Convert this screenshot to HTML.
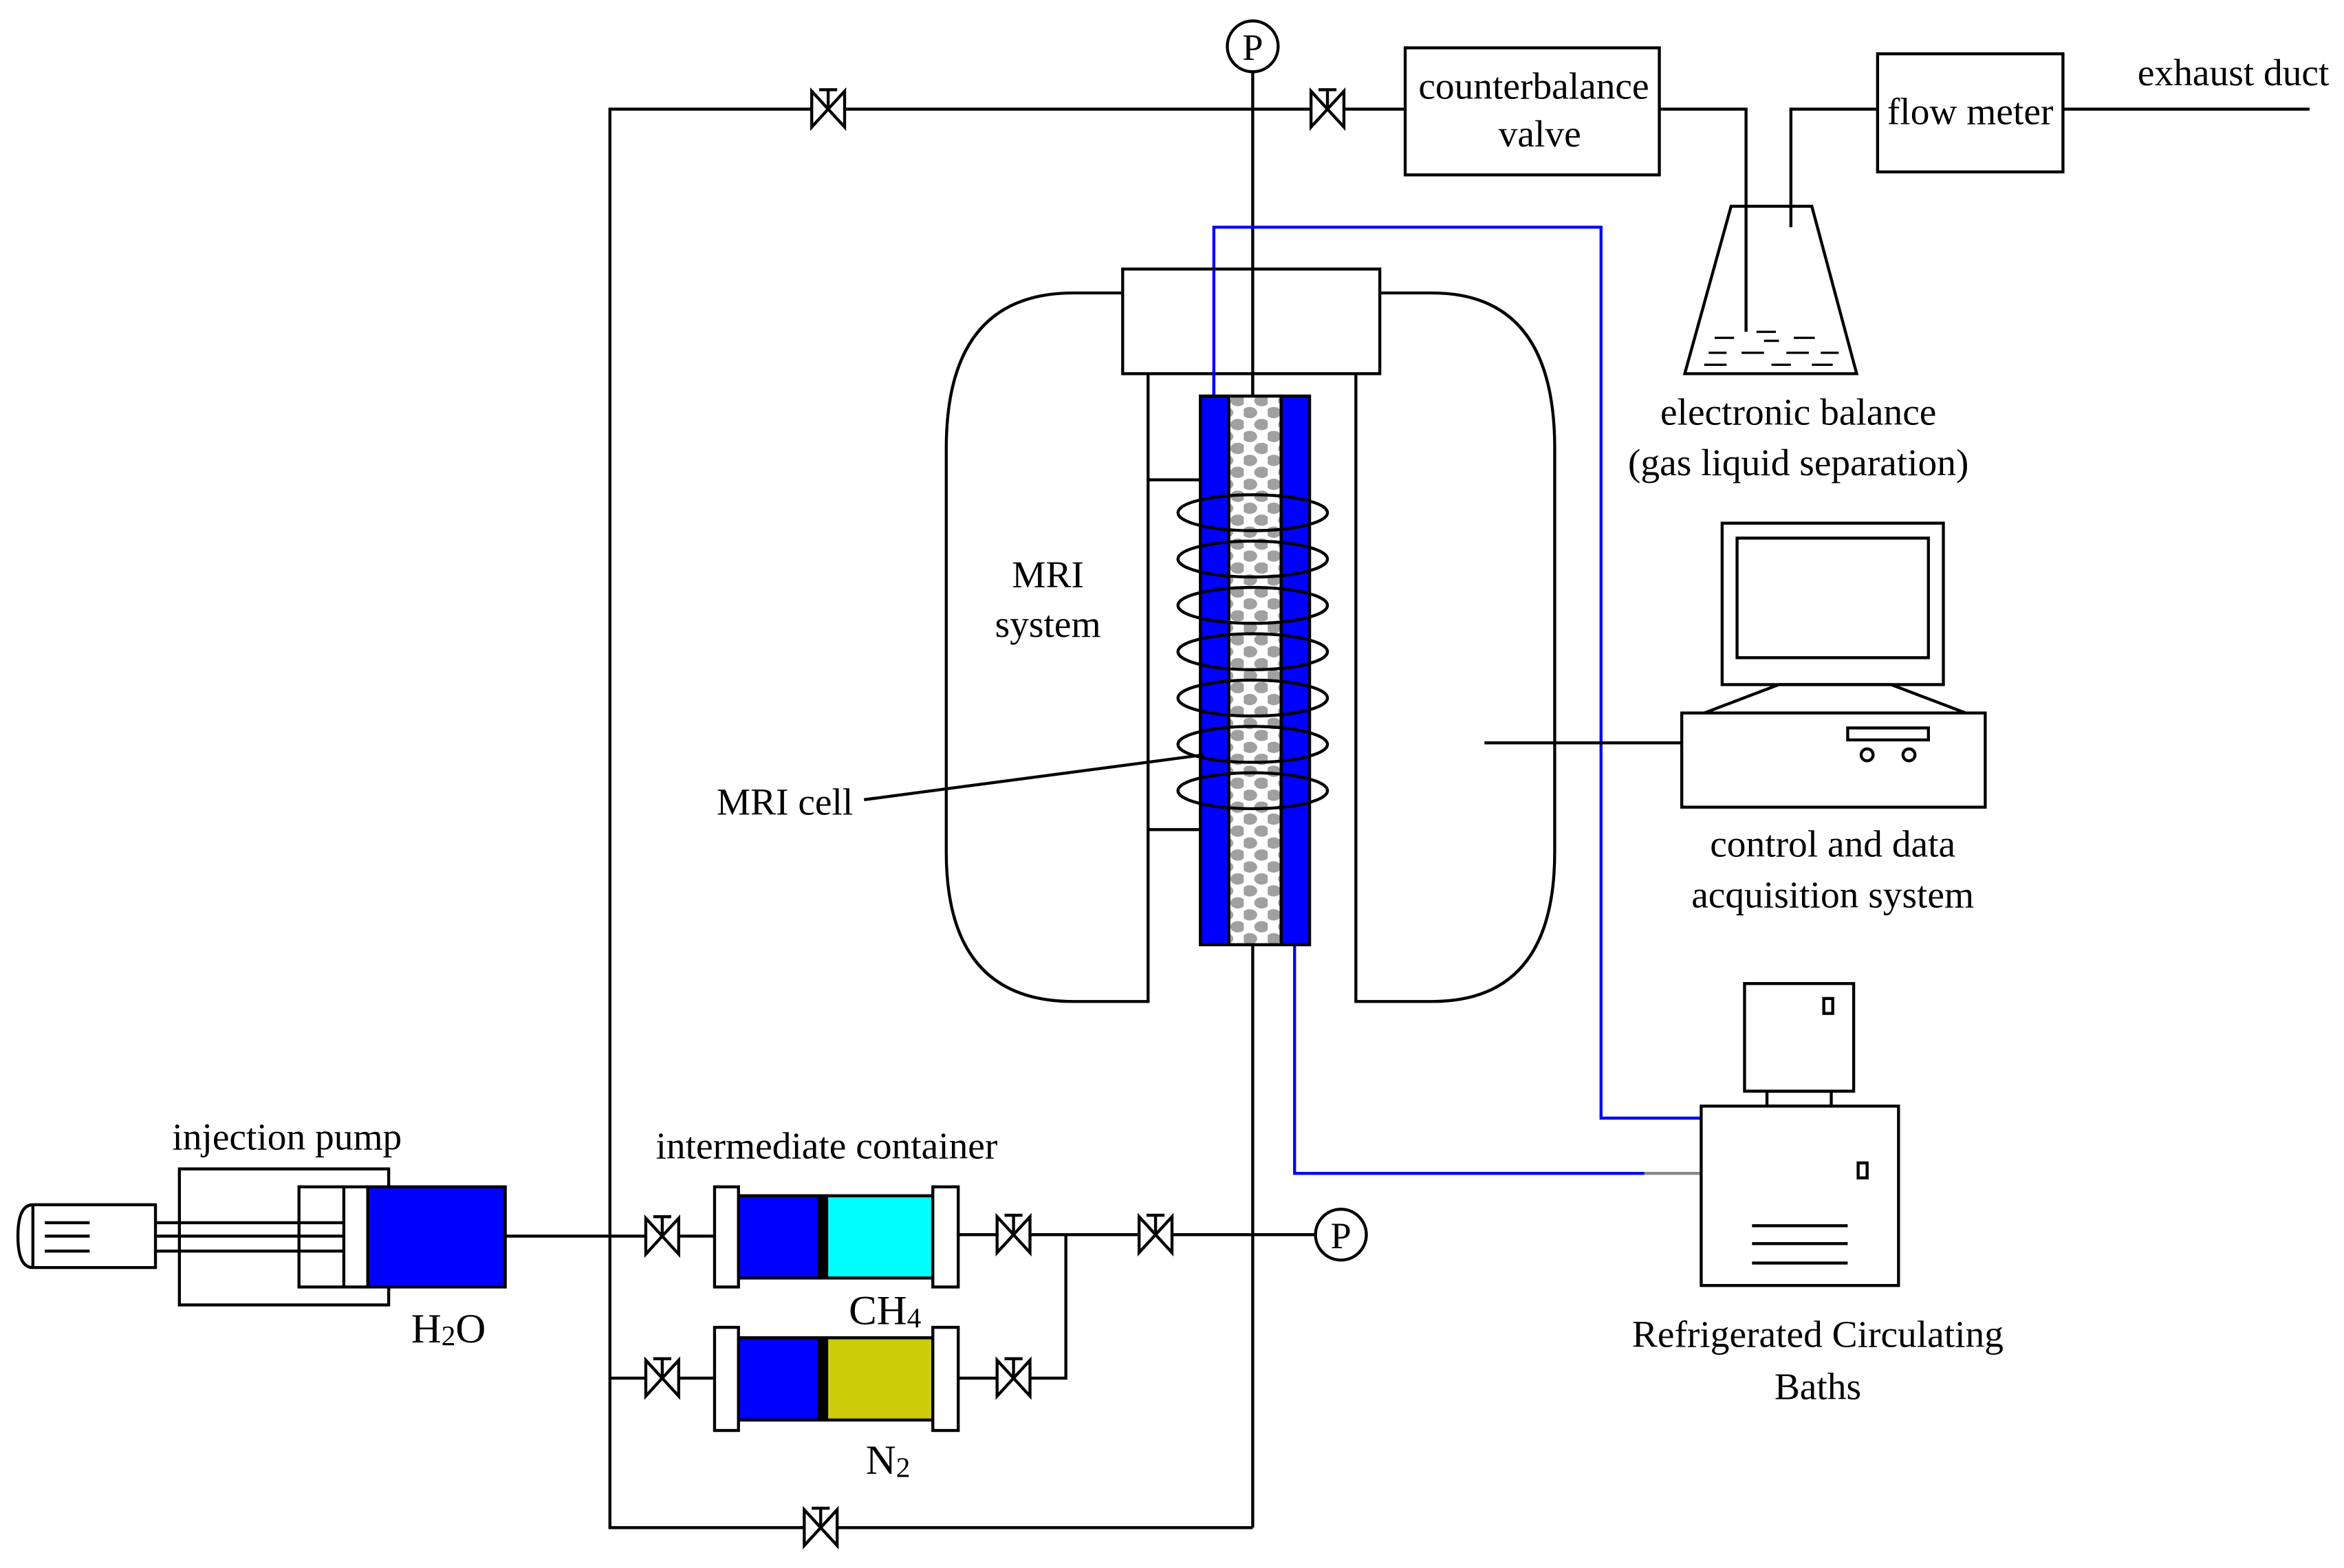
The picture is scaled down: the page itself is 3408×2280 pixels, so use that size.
<!DOCTYPE html>
<html><head><meta charset="utf-8"><style>html,body{margin:0;padding:0;background:#fff}svg{display:block}</style></head>
<body>
<svg width="3408" height="2280" viewBox="0 0 1568 1049" preserveAspectRatio="none" xmlns="http://www.w3.org/2000/svg" font-family="Liberation Serif, serif" font-size="25.5" fill="none" stroke="#000" stroke-width="2">
<defs>
<g id="v"><polygon points="-11,-12 11,12 11,-12 -11,12" fill="#fff"/><line x1="0" y1="0" x2="0" y2="-13"/><line x1="-6" y1="-13" x2="6" y2="-13"/></g>
<pattern id="dots" width="16" height="16" patternUnits="userSpaceOnUse"><rect width="16" height="16" fill="#fff" stroke="none"/><ellipse cx="4" cy="4" rx="5" ry="3.8" fill="#a0a0a0" stroke="none"/><ellipse cx="12" cy="12" rx="5" ry="3.8" fill="#a0a0a0" stroke="none"/></pattern>
</defs>
<polyline points="940,73 408,73 408,1022 838,1022"/>
<line x1="838" y1="48" x2="838" y2="265"/>
<line x1="838" y1="632" x2="838" y2="1022"/>
<use href="#v" x="554" y="73"/><use href="#v" x="888" y="73"/><use href="#v" x="549" y="1022"/>
<circle cx="838" cy="31" r="17" fill="#fff"/><text x="838" y="40" text-anchor="middle" fill="#000" stroke="none" font-size="25">P</text>
<rect x="940" y="32" width="170" height="85" fill="#fff"/>
<text x="1026" y="66" text-anchor="middle" fill="#000" stroke="none">counterbalance</text>
<text x="1030" y="98" text-anchor="middle" fill="#000" stroke="none">valve</text>
<polyline points="1110,73 1168,73 1168,222"/>
<polyline points="1256,73 1198,73 1198,152"/>
<rect x="1256" y="36" width="124" height="79" fill="#fff"/>
<text x="1318" y="83" text-anchor="middle" fill="#000" stroke="none">flow meter</text>
<line x1="1380" y1="73" x2="1545" y2="73"/>
<text x="1494" y="57" text-anchor="middle" fill="#000" stroke="none">exhaust duct</text>
<polygon points="1158,138 1212,138 1242,250 1127,250"/>
<g stroke-width="1.5"><line x1="1147" y1="226" x2="1160" y2="226"/><line x1="1175" y1="222" x2="1188" y2="222"/><line x1="1200" y1="226" x2="1214" y2="226"/><line x1="1143" y1="236" x2="1155" y2="236"/><line x1="1165" y1="236" x2="1180" y2="236"/><line x1="1195" y1="236" x2="1210" y2="236"/><line x1="1218" y1="236" x2="1230" y2="236"/><line x1="1140" y1="244" x2="1155" y2="244"/><line x1="1185" y1="244" x2="1198" y2="244"/><line x1="1212" y1="244" x2="1226" y2="244"/><line x1="1180" y1="228" x2="1190" y2="228"/></g>
<text x="1203" y="284" text-anchor="middle" fill="#000" stroke="none">electronic balance</text>
<text x="1203" y="318" text-anchor="middle" fill="#000" stroke="none">(gas liquid separation)</text>
<polyline points="812,265 812,152 1071,152 1071,748 1138,748" stroke="#0000ff"/>
<polyline points="866,632 866,785 1100,785" stroke="#0000ff"/>
<line x1="1100" y1="785" x2="1138" y2="785" stroke="#888"/>
<path d="M750,196 L718,196 Q633,196 633,300 L633,570 Q633,670 718,670 L768,670 L768,250"/>
<path d="M923,196 L958,196 Q1040,196 1040,300 L1040,570 Q1040,670 958,670 L907,670 L907,250"/>
<rect x="751" y="180" width="172" height="70" fill="#fff"/>
<line x1="838" y1="180" x2="838" y2="265"/>
<line x1="812" y1="180" x2="812" y2="265" stroke="#0000ff"/>
<line x1="768" y1="321" x2="803" y2="321"/>
<line x1="768" y1="555" x2="876" y2="555"/>
<rect x="803" y="265" width="73" height="367" fill="#fff"/>
<rect x="803" y="265" width="19" height="367" fill="#0000ff"/>
<rect x="857" y="265" width="19" height="367" fill="#0000ff"/>
<rect x="822" y="265" width="35" height="367" fill="url(#dots)"/>
<g>
<ellipse cx="838" cy="343" rx="50" ry="12"/>
<ellipse cx="838" cy="374" rx="50" ry="12"/>
<ellipse cx="838" cy="405" rx="50" ry="12"/>
<ellipse cx="838" cy="436" rx="50" ry="12"/>
<ellipse cx="838" cy="467" rx="50" ry="12"/>
<ellipse cx="838" cy="498" rx="50" ry="12"/>
<ellipse cx="838" cy="529" rx="50" ry="12"/>
</g>
<text x="701" y="393" text-anchor="middle" fill="#000" stroke="none">MRI</text>
<text x="701" y="426" text-anchor="middle" fill="#000" stroke="none">system</text>
<text x="525" y="545" text-anchor="middle" fill="#000" stroke="none">MRI cell</text>
<line x1="578" y1="535" x2="805" y2="505"/>
<rect x="1152" y="350" width="148" height="108"/>
<rect x="1162" y="360" width="128" height="80"/>
<polygon points="1190,458 1265,458 1315,477 1140,477"/>
<rect x="1125" y="477" width="203" height="63" fill="#fff"/>
<rect x="1236" y="487" width="54" height="8"/>
<circle cx="1249" cy="505" r="4"/><circle cx="1277" cy="505" r="4"/>
<line x1="993" y1="497" x2="1125" y2="497"/>
<text x="1226" y="573" text-anchor="middle" fill="#000" stroke="none">control and data</text>
<text x="1226" y="607" text-anchor="middle" fill="#000" stroke="none">acquisition  system</text>
<rect x="1167" y="658" width="73" height="72"/>
<rect x="1220" y="668" width="6" height="10"/>
<rect x="1182" y="730" width="43" height="10"/>
<rect x="1138" y="740" width="132" height="120" fill="#fff"/>
<rect x="1243" y="778" width="6" height="10"/>
<line x1="1172" y1="820" x2="1236" y2="820"/><line x1="1172" y1="832" x2="1236" y2="832"/><line x1="1172" y1="845" x2="1236" y2="845"/>
<text x="1216" y="901" text-anchor="middle" fill="#000" stroke="none">Refrigerated Circulating</text>
<text x="1216" y="936" text-anchor="middle" fill="#000" stroke="none">Baths</text>
<path d="M22,806 L104,806 L104,848 L22,848 Q12,848 12,827 Q12,806 22,806 Z"/>
<line x1="22" y1="806" x2="22" y2="848"/>
<line x1="30" y1="818" x2="60" y2="818"/><line x1="30" y1="827" x2="60" y2="827"/><line x1="30" y1="837" x2="60" y2="837"/>
<rect x="120" y="782" width="140" height="91"/>
<line x1="104" y1="818" x2="230" y2="818"/><line x1="104" y1="827" x2="230" y2="827"/><line x1="104" y1="837" x2="230" y2="837"/>
<rect x="200" y="794" width="46" height="67" fill="#fff"/>
<line x1="200" y1="818" x2="230" y2="818"/><line x1="200" y1="827" x2="230" y2="827"/><line x1="200" y1="837" x2="230" y2="837"/>
<line x1="230" y1="794" x2="230" y2="861"/>
<rect x="246" y="794" width="92" height="67" fill="#0000ff"/>
<text x="192" y="769" text-anchor="middle" fill="#000" stroke="none">injection pump</text>
<text x="300" y="898" text-anchor="middle" fill="#000" stroke="none" font-size="28">H<tspan font-size="19" dy="2">2</tspan><tspan dy="-2">O</tspan></text>
<line x1="338" y1="827" x2="478" y2="827"/>
<text x="553" y="775" text-anchor="middle" fill="#000" stroke="none">intermediate container</text>
<line x1="408" y1="922" x2="478" y2="922"/>
<use href="#v" x="443" y="827"/><use href="#v" x="443" y="922"/>
<rect x="494" y="800" width="130" height="55"/>
<rect x="494" y="800" width="54" height="55" fill="#0000ff"/>
<rect x="548" y="800" width="5" height="55" fill="#000"/>
<rect x="553" y="800" width="71" height="55" fill="#00ffff"/>
<rect x="478" y="794" width="16" height="67" fill="#fff"/>
<rect x="624" y="794" width="17" height="67" fill="#fff"/>
<rect x="494" y="895" width="130" height="55"/>
<rect x="494" y="895" width="54" height="55" fill="#0000ff"/>
<rect x="548" y="895" width="5" height="55" fill="#000"/>
<rect x="553" y="895" width="71" height="55" fill="#cccc0a"/>
<rect x="478" y="888" width="16" height="69" fill="#fff"/>
<rect x="624" y="888" width="17" height="69" fill="#fff"/>
<polyline points="641,826 880,826"/>
<polyline points="641,922 713,922 713,826"/>
<use href="#v" x="678" y="826"/><use href="#v" x="678" y="922"/><use href="#v" x="773" y="826"/>
<circle cx="897" cy="826" r="17" fill="#fff"/><text x="897" y="835" text-anchor="middle" fill="#000" stroke="none" font-size="25">P</text>
<text x="592" y="886" text-anchor="middle" fill="#000" stroke="none" font-size="28">CH<tspan font-size="19" dy="2">4</tspan></text>
<text x="594" y="986" text-anchor="middle" fill="#000" stroke="none" font-size="28">N<tspan font-size="19" dy="2">2</tspan></text>
</svg>
</body></html>
